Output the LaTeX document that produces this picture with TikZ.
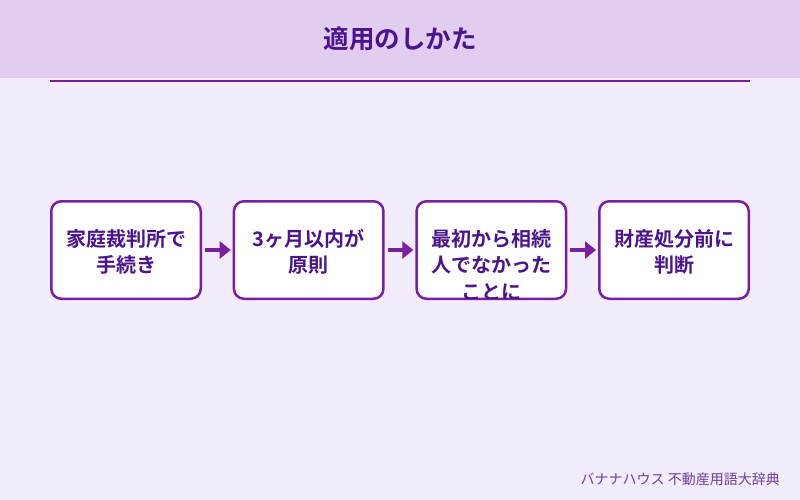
\documentclass[tikz,border=0pt]{standalone}
\usepackage{fontspec}
\setmainfont{Noto Sans CJK JP}[BoldFont={Noto Sans CJK JP Bold}]
\usetikzlibrary{arrows.meta}
\definecolor{bgc}{HTML}{F3ECFC}
\definecolor{headc}{HTML}{E2CDF0}
\definecolor{purp}{HTML}{7B1FA2}
\definecolor{dpurp}{HTML}{4A148C}
\definecolor{footc}{HTML}{6C3FA0}
\tikzset{
  stepbox/.style={draw=purp, line width=2.5pt, fill=white, rounded corners=10pt,
    minimum width=149.5pt, minimum height=97.5pt, inner sep=0pt},
  boxtext/.style={anchor=base, inner sep=0pt, text=dpurp, font=\fontsize{20}{26}\selectfont\bfseries},
  flow/.style={draw=purp, line width=4.5pt, -{Triangle[length=11pt, width=17pt]},
    shorten <=3pt, shorten >=2pt}
}
\begin{document}
\begin{tikzpicture}[x=1pt, y=-1pt]
\useasboundingbox (0,0) rectangle (800,500);
\fill[bgc] (0,0) rectangle (800,500);
\fill[headc] (0,0) rectangle (800,78);
\node[anchor=base, inner sep=0pt, text=dpurp, font=\fontsize{25.5}{30}\selectfont\bfseries] (title) at (400,49) {適用のしかた};
\coordinate (hl) at (50,81);
\coordinate (hr) at (750,81);
\draw[purp, line width=2pt] (hl) -- (hr);
% boxes
\node[stepbox] (b1) at (126,250) {};
\node[stepbox] (b2) at (308.7,250) {};
\node[stepbox] (b3) at (491.3,250) {};
\node[stepbox] (b4) at (674,250) {};
% texts
\node[boxtext] (t1a) at (126,246.3) {家庭裁判所で};
\node[boxtext] (t1b) at (126,272.6) {手続き};
\node[boxtext] (t2a) at (308.7,246.3) {3ヶ月以内が};
\node[boxtext] (t2b) at (308.7,272.6) {原則};
\begin{scope}
\clip[rounded corners=8.75pt] ([shift={(1.25pt,-1.25pt)}]b3.north west) rectangle ([shift={(-1.25pt,1.25pt)}]b3.south east);
\node[boxtext] (t3a) at (491.3,246.3) {最初から相続};
\node[boxtext] (t3b) at (491.3,272.6) {人でなかった};
\node[boxtext] (t3c) at (491.3,299) {ことに};
\end{scope}
\node[boxtext] (t4a) at (674,246.3) {財産処分前に};
\node[boxtext] (t4b) at (674,272.6) {判断};
% arrows
\draw[flow] (b1.east) -- (b2.west);
\draw[flow] (b2.east) -- (b3.west);
\draw[flow] (b3.east) -- (b4.west);
% footer
\node[anchor=base east, inner sep=0pt, text=footc, font=\fontsize{14}{17}\selectfont] (foot) at (780,484.3) {バナナハウス 不動産用語大辞典};
\end{tikzpicture}
\end{document}
